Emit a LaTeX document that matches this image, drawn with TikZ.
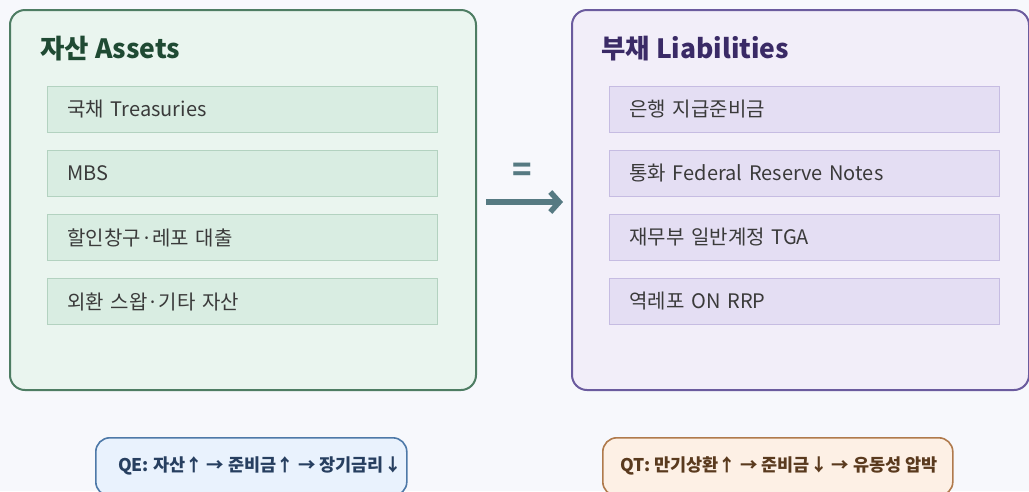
\documentclass[tikz,border=0pt]{standalone}
\usepackage{fontspec}
\setmainfont{Noto Sans CJK KR}
\usetikzlibrary{arrows.meta}
\definecolor{bg}{HTML}{F7F8FC}
\definecolor{gfill}{HTML}{EAF5EF}
\definecolor{gdraw}{HTML}{4E7D63}
\definecolor{gitem}{HTML}{D9EDE2}
\definecolor{gitemdraw}{HTML}{B3D2C0}
\definecolor{gtitle}{HTML}{1F4A33}
\definecolor{pfill}{HTML}{F2EEF9}
\definecolor{pdraw}{HTML}{6B5B9E}
\definecolor{pitem}{HTML}{E4DEF3}
\definecolor{pitemdraw}{HTML}{C6BCE2}
\definecolor{ptitle}{HTML}{3A2A66}
\definecolor{itemtext}{HTML}{3A3A3A}
\definecolor{arrowc}{HTML}{567A82}
\definecolor{qefill}{HTML}{E9F2FD}
\definecolor{qedraw}{HTML}{4E79A8}
\definecolor{qetext}{HTML}{273F60}
\definecolor{qtfill}{HTML}{FDF0E5}
\definecolor{qtdraw}{HTML}{B07A4C}
\definecolor{qttext}{HTML}{5A3A1E}
\tikzset{
  panel/.style={rounded corners=15pt, line width=2pt, minimum width=466pt, minimum height=380pt, anchor=north west, inner sep=0pt},
  item/.style={line width=1pt, minimum width=390pt, minimum height=46pt, anchor=north west, inner xsep=20pt, text width=350pt, align=left, font=\fontsize{20}{24}\selectfont, text=itemtext},
  gitembox/.style={item, fill=gitem, draw=gitemdraw},
  pitembox/.style={item, fill=pitem, draw=pitemdraw},
  title/.style={anchor=base west, font=\bfseries\fontsize{26.5}{30}\selectfont, inner sep=0pt},
  note/.style={rounded corners=14pt, line width=1.6pt, minimum height=58pt, anchor=north west, inner sep=0pt},
  notetext/.style={anchor=west, inner sep=0pt, font=\bfseries\fontsize{17.5}{20}\selectfont},
  bigarrow/.style={draw=arrowc, line width=5.5pt, -{Straight Barb[length=9pt,width=20pt]}}
}
\begin{document}
\begin{tikzpicture}[x=1pt,y=-1pt]
\useasboundingbox (0,0) rectangle (1029,491);
\fill[bg] (0,0) rectangle (1029,491);
\begin{scope}
\clip (0,0) rectangle (1029,491);
% panels
\node[panel, fill=gfill, draw=gdraw] (L) at (9,9) {};
\node[panel, fill=pfill, draw=pdraw, minimum width=457pt] (R) at (571,9) {};
% titles
\node[title, text=gtitle] (Lt) at (40,58) {자산 Assets};
\node[title, text=ptitle] (Rt) at (601,58) {부채 Liabilities};
% asset items
\node[gitembox] (a1) at (47,86) {국채 Treasuries};
\node[gitembox] (a2) at (47,150) {MBS};
\node[gitembox] (a3) at (47,214) {할인창구·레포 대출};
\node[gitembox] (a4) at (47,278) {외환 스왑·기타 자산};
% liability items
\node[pitembox] (b1) at (609,86) {은행 지급준비금};
\node[pitembox] (b2) at (609,150) {통화 Federal Reserve Notes};
\node[pitembox] (b3) at (609,214) {재무부 일반계정 TGA};
\node[pitembox] (b4) at (609,278) {역레포 ON RRP};
% equality arrow
\node[text=arrowc, font=\bfseries\fontsize{32}{36}\selectfont, inner sep=0pt] (eq) at (522,172) {=};
\draw[bigarrow, shorten <=9pt, shorten >=8pt] ([yshift=-2pt]L.east) -- ([yshift=-2pt]R.west);
% bottom notes
\node[note, fill=qefill, draw=qedraw, minimum width=311pt] (qe) at (95,437) {};
\node[notetext, text=qetext] (qet) at (118,466) {QE: 자산↑ → 준비금↑ → 장기금리↓};
\node[note, fill=qtfill, draw=qtdraw, minimum width=350pt] (qt) at (602,437) {};
\node[notetext, text=qttext] (qtt) at (620,466) {QT: 만기상환↑ → 준비금↓ → 유동성 압박};
\end{scope}
\end{tikzpicture}
\end{document}
